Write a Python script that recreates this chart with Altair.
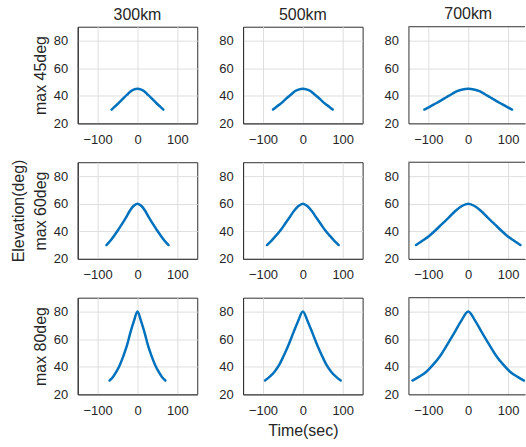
import altair as alt
import pandas as pd

FONT = "Liberation Sans"
INK = "#262626"
FRAME = "#303030"
BLUE = "#0072BD"

altitudes = ["300km", "500km", "700km"]

# Elevation profile (deg) over a pass, one per culmination elevation
elev_45 = [30, 32.1, 34.2, 36.5, 38.9, 41.3, 43.4, 44.6, 45,
           44.6, 43.4, 41.3, 38.9, 36.5, 34.2, 32.1, 30]
elev_60 = [30, 33.1, 36.6, 40.7, 45.2, 49.8, 54.5, 58.3, 60,
           58.3, 54.5, 49.8, 45.2, 40.7, 36.6, 33.1, 30]
elev_80 = [30, 32.8, 36.4, 41.5, 48, 55.8, 64.5, 73, 80,
           73, 64.5, 55.8, 48, 41.5, 36.4, 32.8, 30]

# Time relative to culmination (sec)
t_45_300 = [-65, -57, -49, -41, -33, -24, -16, -8, 0, 8, 16, 24, 33, 41, 49, 57, 65]
t_45_500 = [-75, -66, -56, -47, -38, -28, -19, -9, 0, 9, 19, 28, 38, 47, 56, 66, 75]
t_45_700 = [-110, -96, -83, -69, -55, -41, -28, -14, 0, 14, 28, 41, 55, 69, 83, 96, 110]
t_60_300 = [-78, -68, -59, -49, -39, -29, -20, -10, 0, 10, 20, 29, 39, 49, 59, 68, 78]
t_60_500 = [-90, -79, -68, -56, -45, -34, -23, -11, 0, 11, 23, 34, 45, 56, 68, 79, 90]
t_60_700 = [-131, -115, -98, -82, -66, -49, -33, -16, 0, 16, 33, 49, 66, 82, 98, 115, 131]
t_80_300 = [-70, -61, -53, -44, -35, -26, -18, -9, 0, 9, 18, 26, 35, 44, 53, 61, 70]
t_80_500 = [-95, -83, -71, -59, -48, -36, -24, -12, 0, 12, 24, 36, 48, 59, 71, 83, 95]
t_80_700 = [-140, -123, -105, -88, -70, -53, -35, -18, 0, 18, 35, 53, 70, 88, 105, 123, 140]

rows = [
    ("max 45deg", elev_45, [t_45_300, t_45_500, t_45_700]),
    (["Elevation(deg)", "max 60deg"], elev_60, [t_60_300, t_60_500, t_60_700]),
    ("max 80deg", elev_80, [t_80_300, t_80_500, t_80_700]),
]

PANEL_W = 120
PANEL_H = 97
EDGE_W = 117  # right-hand column runs off the page edge


def panel(times, elevs, r, c, ytitle):
    df = pd.DataFrame({"t": times, "e": elevs})
    last = c == 2
    w = EDGE_W if last else PANEL_W
    xdom = [-150, -150 + w / 0.4] if last else [-150, 150]
    xaxis = alt.Axis(values=[-100, 0, 100], title="Time(sec)" if (r == 2 and c == 1) else None)
    yaxis = alt.Axis(values=[20, 40, 60, 80], title=ytitle if c == 0 else None)
    line = alt.Chart(df).mark_line(color=BLUE, strokeWidth=2.5, interpolate="monotone",
                                   strokeCap="round", strokeJoin="round", clip=True).encode(
        x=alt.X("t:Q", scale=alt.Scale(domain=xdom, nice=False, zero=False), axis=xaxis),
        y=alt.Y("e:Q", scale=alt.Scale(domain=[20, 90], nice=False, zero=False), axis=yaxis),
    )
    props = dict(width=w, height=PANEL_H)
    if r == 0:
        props["title"] = alt.TitleParams(altitudes[c], dx=1.5 if last else 0)
    if last:
        top = alt.Chart(alt.Data(values=[{}])).mark_rule(color=FRAME, strokeWidth=1).encode(
            x=alt.value(0), x2=alt.value(w), y=alt.value(0)
        )
        return alt.layer(line, top).properties(
            view=alt.ViewBackground(strokeOpacity=0), **props
        )
    return line.properties(**props)


charts = []
for r, (ytitle, elevs, tlist) in enumerate(rows):
    for c in range(3):
        charts.append(panel(tlist[c], elevs, r, c, ytitle))

chart = alt.concat(*charts, columns=3, spacing={"row": 39, "column": 46}, bounds="flush").properties(
    padding={"left": 10, "top": 5, "right": 0, "bottom": 0}
).configure(font=FONT, background="white").configure_view(
    stroke=FRAME, strokeWidth=1
).configure_axis(
    domain=True, domainColor=FRAME, domainWidth=1,
    ticks=False, labelPadding=10,
    grid=True, gridColor="#dedede", gridWidth=1,
    labelFont=FONT, labelFontSize=13, labelColor=INK,
    titleFont=FONT, titleFontSize=16, titleColor=INK, titleFontWeight="normal",
    titlePadding=5, titleLineHeight=22, titleLimit=300,
).configure_title(
    font=FONT, fontSize=16, color=INK, fontWeight="normal", offset=4, anchor="middle"
)

chart.save("out.html", embed_options={"renderer": "svg", "actions": False})
